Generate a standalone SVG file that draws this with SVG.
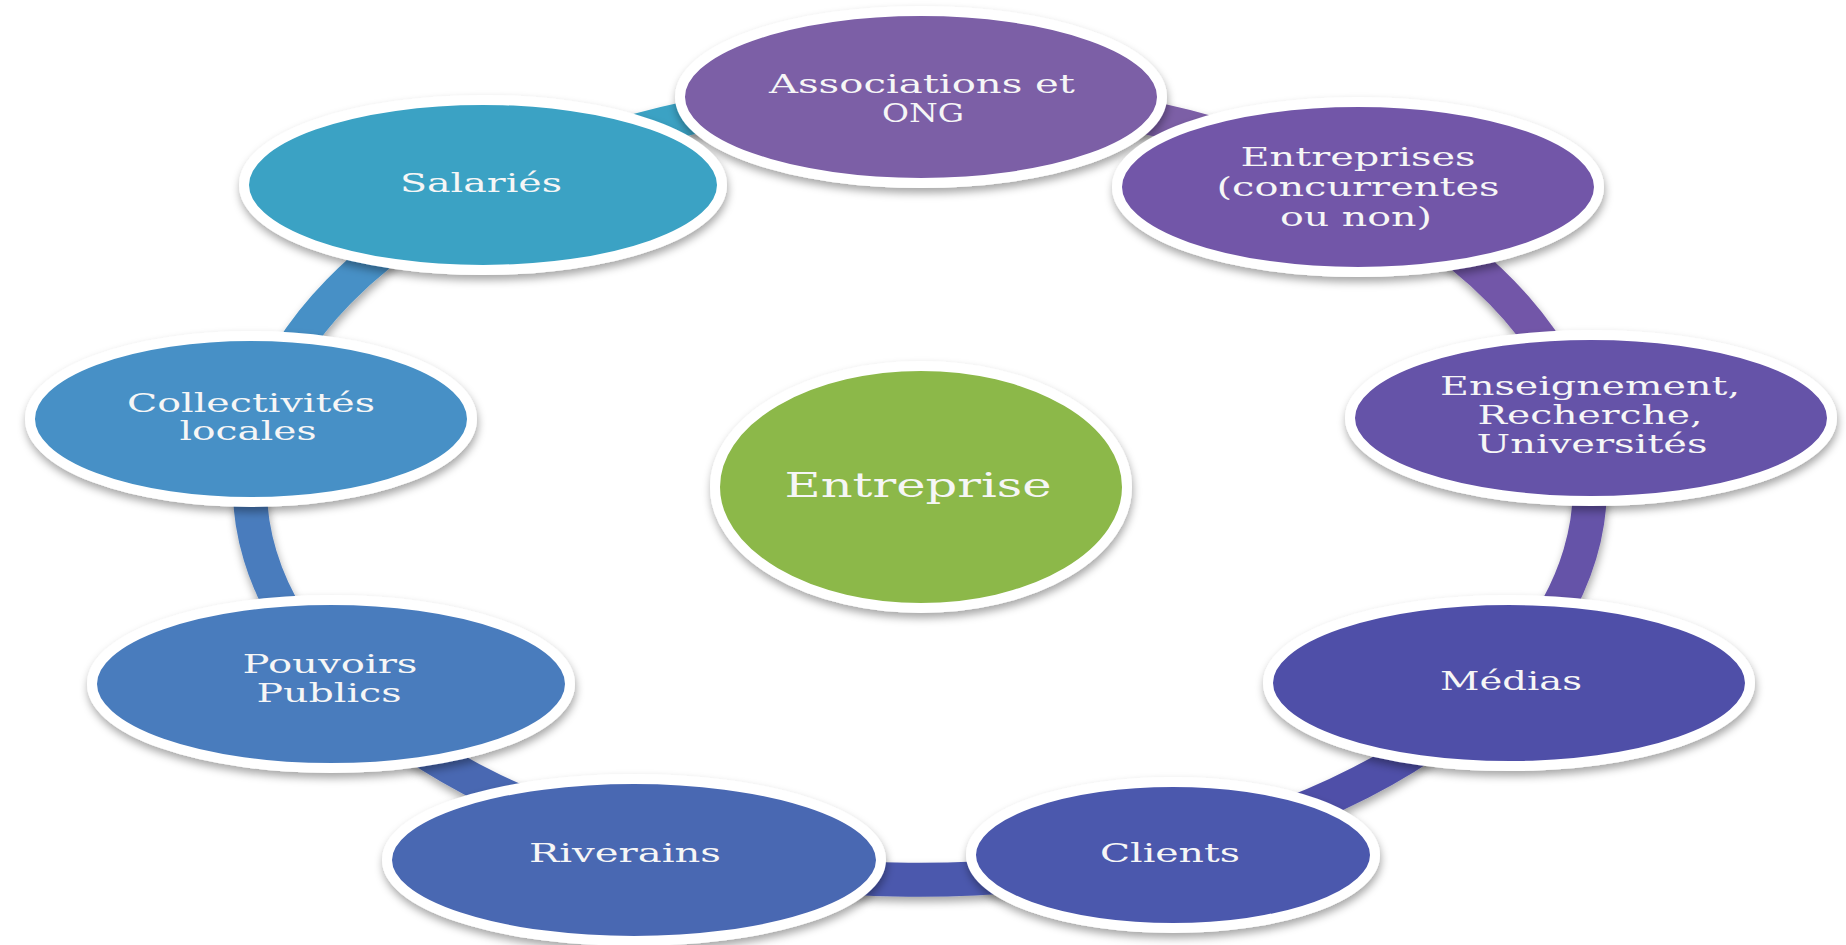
<svg xmlns="http://www.w3.org/2000/svg" width="1846" height="945" viewBox="0 0 1846 945">
<defs>
<filter id="sh" x="-10%" y="-20%" width="120%" height="150%">
<feDropShadow dx="1" dy="5" stdDeviation="4" flood-color="#000" flood-opacity="0.35"/>
</filter>
<style>
.node{stroke:#fff;stroke-width:10;filter:url(#sh)}
.seg{fill:none;stroke-width:34;stroke-linecap:butt}
.t{font-family:"DejaVu Serif","Liberation Serif",serif;font-size:26px;fill:#f6f6f6;text-anchor:middle}
.big{font-size:33px}
</style>
</defs>
<rect width="1846" height="945" fill="#fff"/>
<g id="connectors" filter="url(#sh)">
<path class="seg" stroke="#7b5ea6" d="M920 94 A670 393 0 0 1 1356 189"/>
<path class="seg" stroke="#7257a8" d="M1356 189 A670 393 0 0 1 1580 419"/>
<path class="seg" stroke="#6552a8" d="M1580 419 A670 393 0 0 1 1502 681"/>
<path class="seg" stroke="#5050a8" d="M1502 681 A670 393 0 0 1 1171 851"/>
<path class="seg" stroke="#4b58ad" d="M1171 851 A670 393 0 0 1 647 846"/>
<path class="seg" stroke="#4a67b2" d="M647 846 A670 393 0 0 1 340 684"/>
<path class="seg" stroke="#4a7cbd" d="M340 684 A670 393 0 0 1 260 419"/>
<path class="seg" stroke="#4690c6" d="M260 419 A670 393 0 0 1 487 187"/>
<path class="seg" stroke="#3aa2c4" d="M487 187 A670 393 0 0 1 920 94"/>
</g>
<g id="n-associations">
<ellipse class="node" cx="921" cy="97" rx="241" ry="86" fill="#7b5ea6"/>
<text class="t" x="922" y="93" textLength="306" lengthAdjust="spacingAndGlyphs">Associations et</text>
<text class="t" x="923" y="122" textLength="82" lengthAdjust="spacingAndGlyphs">ONG</text>
</g>
<g id="n-entreprises">
<ellipse class="node" cx="1358" cy="187" rx="241" ry="85" fill="#7257a8"/>
<text class="t" x="1358" y="166" textLength="235" lengthAdjust="spacingAndGlyphs">Entreprises</text>
<text class="t" x="1358" y="196" textLength="283" lengthAdjust="spacingAndGlyphs">(concurrentes</text>
<text class="t" x="1356" y="226" textLength="152" lengthAdjust="spacingAndGlyphs">ou non)</text>
</g>
<g id="n-enseignement">
<ellipse class="node" cx="1591" cy="418" rx="241" ry="83" fill="#6552a8"/>
<text class="t" x="1590" y="395" textLength="300" lengthAdjust="spacingAndGlyphs">Enseignement,</text>
<text class="t" x="1590" y="424" textLength="225" lengthAdjust="spacingAndGlyphs">Recherche,</text>
<text class="t" x="1592" y="453" textLength="231" lengthAdjust="spacingAndGlyphs">Universités</text>
</g>
<g id="n-medias">
<ellipse class="node" cx="1509" cy="683" rx="241" ry="83" fill="#5050a8"/>
<text class="t" x="1511" y="690" textLength="142" lengthAdjust="spacingAndGlyphs">Médias</text>
</g>
<g id="n-clients">
<ellipse class="node" cx="1173" cy="855" rx="202" ry="73" fill="#4b58ad"/>
<text class="t" x="1170" y="862" textLength="140" lengthAdjust="spacingAndGlyphs">Clients</text>
</g>
<g id="n-riverains">
<ellipse class="node" cx="634" cy="860" rx="247" ry="81" fill="#4a67b2"/>
<text class="t" x="625" y="862" textLength="192" lengthAdjust="spacingAndGlyphs">Riverains</text>
</g>
<g id="n-pouvoirs">
<ellipse class="node" cx="331" cy="684" rx="239" ry="84" fill="#4a7cbd"/>
<text class="t" x="330" y="673" textLength="175" lengthAdjust="spacingAndGlyphs">Pouvoirs</text>
<text class="t" x="329" y="702" textLength="145" lengthAdjust="spacingAndGlyphs">Publics</text>
</g>
<g id="n-collectivites">
<ellipse class="node" cx="251" cy="419" rx="221" ry="83" fill="#4690c6"/>
<text class="t" x="251" y="412" textLength="248" lengthAdjust="spacingAndGlyphs">Collectivités</text>
<text class="t" x="248" y="440" textLength="137" lengthAdjust="spacingAndGlyphs">locales</text>
</g>
<g id="n-salaries">
<ellipse class="node" cx="483" cy="185" rx="239" ry="85" fill="#3aa2c4"/>
<text class="t" x="481" y="192" textLength="162" lengthAdjust="spacingAndGlyphs">Salariés</text>
</g>
<g id="n-entreprise">
<ellipse class="node" cx="921" cy="487" rx="206" ry="121" fill="#8cb84a"/>
<text class="t big" x="918" y="497" textLength="267" lengthAdjust="spacingAndGlyphs">Entreprise</text>
</g>
</svg>
